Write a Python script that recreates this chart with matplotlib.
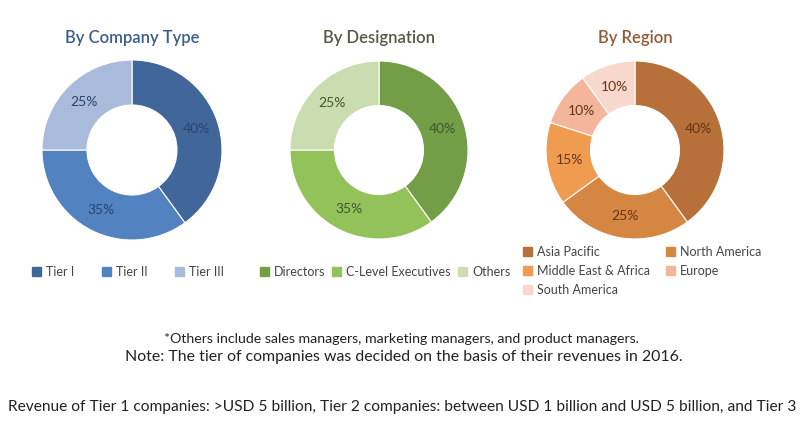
import matplotlib
matplotlib.use("Agg")
import matplotlib.pyplot as plt
from matplotlib.patches import Patch

plt.rcParams['font.family'] = ['Liberation Sans Narrow', 'Lato', 'DejaVu Sans']

# data
company_labels = ["Tier I", "Tier II", "Tier III"]
company_values = [40, 35, 25]
company_colors = ["#41669A", "#5282C0", "#A9BADB"]

desig_labels = ["Directors", "C-Level Executives", "Others"]
desig_values = [40, 35, 25]
desig_colors = ["#739D46", "#93C25A", "#C9DDB0"]

region_labels = ["Asia Pacific", "North America", "Middle East & Africa", "Europe", "South America"]
region_values = [40, 25, 15, 10, 10]
region_colors = ["#B7703A", "#D68643", "#F09C50", "#F3B69B", "#F8D7CC"]

W, H = 800, 425
fig = plt.figure(figsize=(8, 4.25), dpi=100)


def donut(cx, cy, r, values, colors, txtcolor, title, tcolor):
    ax = fig.add_axes([(cx - r) / W, 1 - (cy + r) / H, 2 * r / W, 2 * r / H])
    ax.pie(values, colors=colors, startangle=90, counterclock=False,
           radius=1, wedgeprops=dict(width=0.5, edgecolor="white", linewidth=0.8),
           autopct="%d%%", pctdistance=0.75,
           textprops=dict(color=txtcolor, fontsize=10))
    ax.set_aspect("equal")
    ax.set_xlim(-1, 1)
    ax.set_ylim(-1, 1)
    fig.text(cx / W, 1 - 38 / H, title, ha="center", va="center",
             fontsize=12, color=tcolor, fontweight="semibold")
    return ax


donut(132, 150, 90, company_values, company_colors, "#2A4470", "By Company Type", "#3A5E90")
donut(379, 150, 89, desig_values, desig_colors, "#40582A", "By Designation", "#525B44")
donut(635, 150, 89, region_values, region_colors, "#633616", "By Region", "#955A33")

legkw = dict(frameon=False, handlelength=0.7, handleheight=0.7, handletextpad=0.4,
             fontsize=9, labelcolor="#444444", borderpad=0, borderaxespad=0)

h = [Patch(color=c) for c in company_colors]
fig.legend(h, company_labels, loc="center", bbox_to_anchor=(128 / W, 1 - 272 / H),
           ncol=3, columnspacing=2.2, **legkw)

h = [Patch(color=c) for c in desig_colors]
fig.legend(h, desig_labels, loc="center", bbox_to_anchor=(385 / W, 1 - 272 / H),
           ncol=3, columnspacing=0.6, **legkw)

# region legend filled row by row
order = [0, 2, 4, 1, 3]
h = [Patch(color=region_colors[i]) for i in order]
fig.legend(h, [region_labels[i] for i in order], loc="upper left",
           bbox_to_anchor=(523 / W, 1 - 246 / H), ncol=2, columnspacing=1.3,
           labelspacing=0.55, **legkw)

fig.text(402 / W, 1 - 339 / H, "*Others include sales managers, marketing managers, and product managers.",
         ha="center", va="center", fontsize=10.2, color="#222222")
fig.text(404 / W, 1 - 357 / H, "Note: The tier of companies was decided on the basis of their revenues in 2016.",
         ha="center", va="center", fontsize=11.4, color="#222222")
fig.text(8 / W, 1 - 407 / H,
         "Revenue of Tier 1 companies: >USD 5 billion, Tier 2 companies: between USD 1 billion and USD 5 billion, and Tier 3",
         ha="left", va="center", fontsize=11.2, color="#222222")

fig.savefig("out.png", dpi=100, facecolor="white")
